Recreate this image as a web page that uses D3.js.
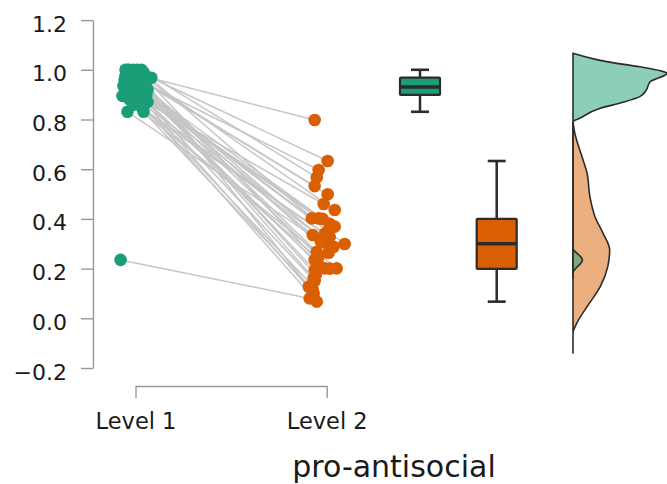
<!DOCTYPE html>
<html><head><meta charset="utf-8">
<script src="https://cdn.jsdelivr.net/npm/d3@7"></script>
<style>
body{margin:0;background:#fff}
svg{display:block}
text{font-family:"DejaVu Sans",sans-serif;fill:#1a1a1a}
</style>
</head><body>
<svg id="c" width="667" height="484"></svg>
<script>
// ---------- data ----------
const categories = ["Level 1", "Level 2"];
const xTitle = "pro-antisocial";
const yTicks = [-0.2, 0, 0.2, 0.4, 0.6, 0.8, 1.0, 1.2];
// paired observations (same index = same participant)
const level1 = [1.0, 1.0, 1.0, 1.0, 1.0, 1.0, 0.99, 0.98, 0.975, 0.97,
                0.968, 0.967, 0.965, 0.96, 0.955, 0.95, 0.945, 0.94, 0.935, 0.932,
                0.93, 0.93, 0.93, 0.925, 0.92, 0.92, 0.915, 0.91, 0.905, 0.90,
                0.895, 0.89, 0.885, 0.88, 0.87, 0.86, 0.85, 0.831, 0.831, 0.235];
const level2 = [0.302, 0.161, 0.436, 0.201, 0.567, 0.268, 0.35, 0.127, 0.40, 0.798,
                0.633, 0.25, 0.499, 0.10, 0.532, 0.299, 0.597, 0.215, 0.369, 0.194,
                0.335, 0.402, 0.264, 0.067, 0.38, 0.175, 0.288, 0.402, 0.134, 0.32,
                0.201, 0.46, 0.15, 0.328, 0.235, 0.34, 0.20, 0.31, 0.115, 0.08];
// horizontal jitter, as a fraction of the category step
const jitter1 = [-0.052, -0.031, -0.010, 0.010, 0.031, -0.042, 0.042, 0.021, -0.052, 0.063,
                 0.083, -0.021, 0.010, -0.057, 0.042, -0.031, 0.052, 0.000, -0.063, 0.031,
                 -0.016, 0.016, 0.052, -0.042, 0.000, 0.063, -0.052, 0.026, -0.026, 0.057,
                 -0.068, 0.010, 0.042, -0.031, 0.063, -0.010, 0.031, -0.042, 0.042, -0.078];
const jitter2 = [0.000, -0.068, 0.042, -0.010, -0.052, -0.052, 0.005, -0.094, -0.021, -0.063,
                 0.005, -0.042, 0.005, -0.068, -0.063, 0.094, -0.042, -0.042, 0.042, -0.063,
                 -0.073, -0.078, 0.010, -0.052, 0.016, -0.057, 0.036, -0.042, -0.078, -0.021,
                 0.052, -0.016, -0.063, 0.016, -0.063, -0.010, 0.016, -0.031, -0.073, -0.089];
// half-violin densities (relative)
const densGrid1 = [1.067, 1.033, 1.012, 0.996, 0.986, 0.952, 0.919, 0.892, 0.869, 0.845, 0.805, 0.791, 0.30, 0.283, 0.235, 0.182, 0.16];
const dens1     = [0, 0.36, 0.71, 0.93, 1.0, 0.82, 0.78, 0.71, 0.53, 0.29, 0.07, 0, 0, 0, 0.10, 0, 0];
const densGrid2 = [0.791, 0.744, 0.65, 0.583, 0.489, 0.409, 0.342, 0.275, 0.208, 0.127, 0.047, -0.02, -0.06, -0.14];
const dens2     = [0, 0.02, 0.096, 0.15, 0.18, 0.234, 0.32, 0.39, 0.37, 0.29, 0.15, 0.04, 0, 0];
const colors = ["#1b9e77", "#d95f02"];

// ---------- layout ----------
const svg = d3.select("#c");
const y = d3.scaleLinear().domain([-0.2, 1.2]).range([368, 20.1]);
const x = d3.scalePoint().domain(categories).range([135.5, 326.7]);
const step = x(categories[1]) - x(categories[0]);
const xBox = d3.scalePoint().domain(categories).range([420, 496.7]);
const violinBase = 573;
const wScale = d3.scaleLinear().domain([0, 1]).range([0, 94]);

// ---------- axes ----------
const yAxis = d3.axisLeft(y).tickValues(yTicks).tickFormat(d3.format(".1f"))
  .tickSizeInner(12).tickSizeOuter(0).tickPadding(14);
const gy = svg.append("g").attr("transform", "translate(93,0)").call(yAxis);
gy.select(".domain").attr("stroke", "#999").attr("stroke-width", 1.4);
gy.selectAll(".tick line").attr("stroke", "#999").attr("stroke-width", 1.4);
gy.selectAll(".tick text").attr("font-size", 22).attr("dy", "0.5em").attr("fill", "#1a1a1a")
  .style("font-family", "'DejaVu Sans', sans-serif");

const xAxis = d3.axisBottom(x).tickSizeInner(12).tickSizeOuter(0).tickPadding(15.5);
const gx = svg.append("g").attr("transform", "translate(0,386)").call(xAxis);
gx.select(".domain").attr("stroke", "#999").attr("stroke-width", 1.4);
gx.selectAll(".tick line").attr("stroke", "#999").attr("stroke-width", 1.4);
gx.selectAll(".tick text").attr("font-size", 22.5).attr("fill", "#1a1a1a")
  .style("font-family", "'DejaVu Sans', sans-serif");

svg.append("text").attr("x", 394).attr("y", 476.5).attr("text-anchor", "middle")
  .attr("font-size", 30).text(xTitle);

// ---------- paired lines ----------
const pairs = level1.map((v, i) => ({
  v1: v, v2: level2[i],
  x1: x(categories[0]) + jitter1[i] * step,
  x2: x(categories[1]) + jitter2[i] * step
}));
svg.append("g").selectAll("line").data(pairs).join("line")
  .attr("x1", d => d.x1).attr("y1", d => y(d.v1))
  .attr("x2", d => d.x2).attr("y2", d => y(d.v2))
  .attr("stroke", "#c6c6c6").attr("stroke-width", 1.5);

// ---------- points ----------
const gp = svg.append("g");
gp.selectAll("circle.a").data(pairs).join("circle").attr("class", "a")
  .attr("cx", d => d.x1).attr("cy", d => y(d.v1)).attr("r", 6.3)
  .attr("fill", colors[0]);
gp.selectAll("circle.b").data(pairs).join("circle").attr("class", "b")
  .attr("cx", d => d.x2).attr("cy", d => y(d.v2)).attr("r", 6.3)
  .attr("fill", colors[1]);

// ---------- boxplots ----------
function boxStats(arr) {
  const s = arr.slice().sort(d3.ascending);
  const q1 = d3.quantile(s, 0.25), med = d3.quantile(s, 0.5), q3 = d3.quantile(s, 0.75);
  const iqr = q3 - q1;
  const lo = d3.min(s.filter(v => v >= q1 - 1.5 * iqr));
  const hi = d3.max(s.filter(v => v <= q3 + 1.5 * iqr));
  return {q1, med, q3, lo, hi};
}
[level1, level2].forEach((arr, i) => {
  const st = boxStats(arr);
  const cx = xBox(categories[i]);
  const bw = 40, cw = 18;
  const g = svg.append("g");
  g.append("line").attr("x1", cx).attr("x2", cx).attr("y1", y(st.hi)).attr("y2", y(st.q3))
    .attr("stroke", "#2b2b2b").attr("stroke-width", 2.5);
  g.append("line").attr("x1", cx).attr("x2", cx).attr("y1", y(st.q1)).attr("y2", y(st.lo))
    .attr("stroke", "#2b2b2b").attr("stroke-width", 2.5);
  g.append("line").attr("x1", cx - cw / 2).attr("x2", cx + cw / 2).attr("y1", y(st.hi)).attr("y2", y(st.hi))
    .attr("stroke", "#2b2b2b").attr("stroke-width", 2.6);
  g.append("line").attr("x1", cx - cw / 2).attr("x2", cx + cw / 2).attr("y1", y(st.lo)).attr("y2", y(st.lo))
    .attr("stroke", "#2b2b2b").attr("stroke-width", 2.6);
  g.append("rect").attr("x", cx - bw / 2).attr("width", bw)
    .attr("y", y(st.q3)).attr("height", y(st.q1) - y(st.q3))
    .attr("fill", colors[i]).attr("stroke", "#2b2b2b").attr("stroke-width", 2.2).attr("rx", 1);
  g.append("line").attr("x1", cx - bw / 2).attr("x2", cx + bw / 2).attr("y1", y(st.med)).attr("y2", y(st.med))
    .attr("stroke", "#2b2b2b").attr("stroke-width", 3.5);
});

// ---------- half violins ----------
const area = d3.area()
  .y(d => y(d[0]))
  .x0(violinBase)
  .x1(d => violinBase + wScale(d[1]))
  .curve(d3.curveMonotoneY);
const dens = [
  densGrid1.map((g, i) => [g, dens1[i]]),
  densGrid2.map((g, i) => [g, dens2[i]])
];
[1, 0].forEach(i => {
  svg.append("path").attr("d", area(dens[i]))
    .attr("fill", colors[i]).attr("fill-opacity", 0.5)
    .attr("stroke", "#2b2b2b").attr("stroke-width", 1.6).attr("stroke-linejoin", "round");
});
</script>
</body></html>
